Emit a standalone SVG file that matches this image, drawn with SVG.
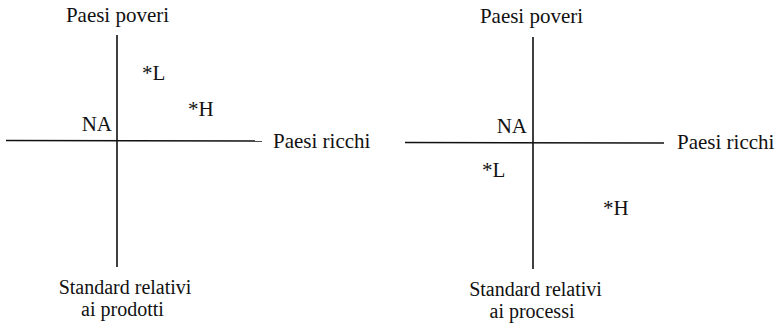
<svg xmlns="http://www.w3.org/2000/svg" width="780" height="327" viewBox="0 0 780 327">
  <style>
    .axis { stroke: #111; stroke-width: 1.6; fill: none; }
  </style>
  <rect width="780" height="327" fill="#fff"/>

  <g font-family="Liberation Serif" font-size="21" fill="#111">
    <!-- Left chart: product standards -->
    <g id="axes-prodotti">
      <line class="axis" x1="117" y1="35" x2="117" y2="267"/>
      <line class="axis" x1="6" y1="140.5" x2="262" y2="141"/>
    </g>
    <g id="label-prodotti-poveri"><text x="117.5" y="22" text-anchor="middle">Paesi poveri</text></g>
    <g id="label-prodotti-ricchi"><text x="273" y="148">Paesi ricchi</text></g>
    <g id="label-prodotti-titolo" font-size="20" text-anchor="middle">
      <text x="125" y="294">Standard relativi</text>
      <text x="122.5" y="316">ai prodotti</text>
    </g>
    <g id="point-prodotti-NA"><text x="112" y="131" text-anchor="end">NA</text></g>
    <g id="point-prodotti-L"><text x="142" y="80">*L</text></g>
    <g id="point-prodotti-H"><text x="188" y="116">*H</text></g>

    <!-- Right chart: process standards -->
    <g id="axes-processi">
      <line class="axis" x1="533" y1="37" x2="533" y2="269"/>
      <line class="axis" x1="405" y1="142.5" x2="664" y2="143"/>
    </g>
    <g id="label-processi-poveri"><text x="531.5" y="23" text-anchor="middle">Paesi poveri</text></g>
    <g id="label-processi-ricchi"><text x="677" y="149">Paesi ricchi</text></g>
    <g id="label-processi-titolo" font-size="20" text-anchor="middle">
      <text x="535.5" y="296">Standard relativi</text>
      <text x="532" y="318">ai processi</text>
    </g>
    <g id="point-processi-NA"><text x="527" y="133" text-anchor="end">NA</text></g>
    <g id="point-processi-L"><text x="482" y="177">*L</text></g>
    <g id="point-processi-H"><text x="603" y="215">*H</text></g>
  </g>
</svg>
